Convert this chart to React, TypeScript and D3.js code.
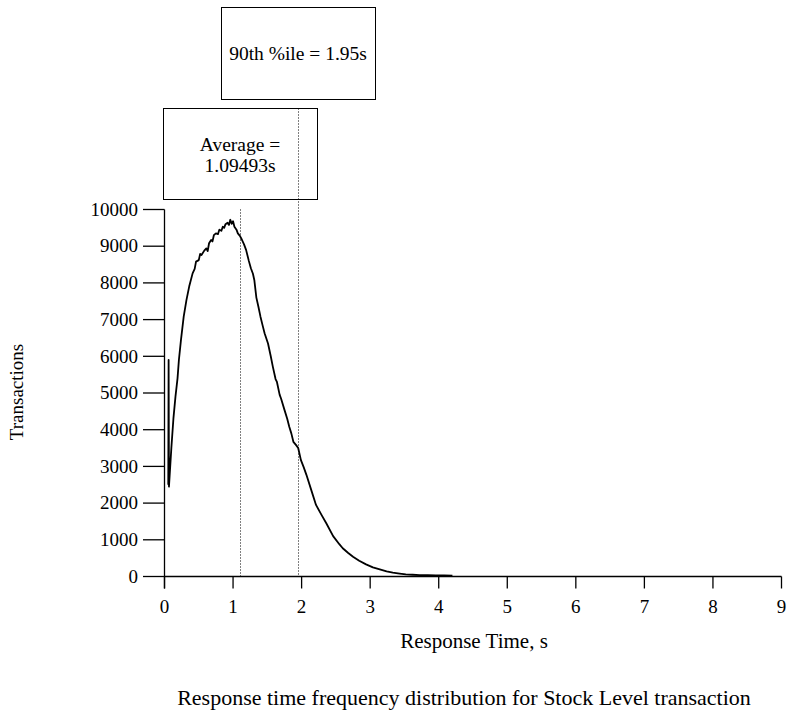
import React from "react";
import * as d3 from "d3";

const times = [0.055,0.06,0.065,0.10,0.13,0.16,0.19,0.21,0.24,0.28,0.32,0.36,0.41,0.44,0.46,0.50,0.52,0.54,0.58,0.61,0.63,0.65,0.68,0.70,0.72,0.75,0.78,0.80,0.83,0.85,0.87,0.89,0.92,0.94,0.96,0.98,1.00,1.02,1.05,1.07,1.10,1.12,1.16,1.19,1.23,1.26,1.29,1.31,1.34,1.37,1.40,1.43,1.46,1.51,1.55,1.58,1.62,1.64,1.68,1.70,1.75,1.79,1.82,1.85,1.88,1.92,1.95,1.99,2.03,2.07,2.14,2.21,2.29,2.36,2.46,2.55,2.60,2.68,2.75,2.84,2.94,3.04,3.14,3.24,3.33,3.43,3.52,3.62,3.72,3.84,3.96,4.08,4.20];
const counts = [2500,5900,2450,3500,4300,4900,5400,5900,6440,7080,7530,7900,8260,8380,8580,8620,8790,8760,8880,8940,8870,9080,9170,9130,9300,9350,9330,9450,9420,9530,9500,9600,9640,9580,9720,9610,9680,9530,9450,9350,9280,9210,9050,8900,8600,8400,8250,8080,7600,7350,7080,6850,6630,6350,6000,5720,5380,5300,4950,4850,4540,4300,4080,3900,3670,3580,3500,3170,2980,2770,2360,1950,1680,1450,1100,880,770,640,540,430,330,250,195,140,105,80,60,48,40,35,30,28,25];

const xTicks = [0,1,2,3,4,5,6,7,8,9];
const yTicks = [0,1000,2000,3000,4000,5000,6000,7000,8000,9000,10000];
const averageValue = 1.09493;
const percentile90 = 1.95;
const averageLines = ["Average =", "1.09493s"];
const percentileLabel = "90th %ile = 1.95s";
const xTitle = "Response Time, s";
const yTitle = "Transactions";
const caption = "Response time frequency distribution for Stock Level transaction";

const FONT = "'Liberation Serif', 'Times New Roman', Times, serif";

export default function App() {
  const x = d3.scaleLinear().domain([0, 9]).range([164.5, 781.5]);
  const y = d3.scaleLinear().domain([0, 10000]).range([576.5, 209.5]);
  const data = times.map((t, i) => [t, counts[i]] as [number, number]);
  const line = d3
    .line<[number, number]>()
    .x((d) => x(d[0]))
    .y((d) => y(d[1]));

  return (
    <svg
      width={787}
      height={711}
      style={{ position: "absolute", left: 0, top: 0, background: "#fff" }}
      fontFamily={FONT}
    >
      <rect x={0} y={0} width={787} height={711} fill="#fff" />
      {/* annotation boxes */}
      <rect x={221.5} y={7.5} width={154} height={92} fill="none" stroke="#000" strokeWidth={1} />
      <text x={298} y={60} textAnchor="middle" fontSize={19.5}>
        {percentileLabel}
      </text>
      <rect x={163.5} y={108.5} width={154} height={91} fill="none" stroke="#000" strokeWidth={1} />
      <text x={240} y={151} textAnchor="middle" fontSize={19.5}>
        {averageLines[0]}
      </text>
      <text x={240} y={172} textAnchor="middle" fontSize={19.5}>
        {averageLines[1]}
      </text>

      {/* reference lines */}
      <line
        x1={Math.round(x(averageValue)) + 0.5}
        x2={Math.round(x(averageValue)) + 0.5}
        y1={y(10000)}
        y2={y(0)}
        stroke="#000"
        strokeWidth={1}
        strokeDasharray="1,2"
      />
      <line
        x1={Math.round(x(percentile90)) + 0.5}
        x2={Math.round(x(percentile90)) + 0.5}
        y1={108.5}
        y2={y(0)}
        stroke="#000"
        strokeWidth={1}
        strokeDasharray="1,2"
      />

      {/* axes */}
      <line x1={x(0)} x2={x(0)} y1={y(10000)} y2={y(0) + 12} stroke="#000" strokeWidth={1.3} />
      <line x1={x(0)} x2={x(9)} y1={y(0)} y2={y(0)} stroke="#000" strokeWidth={1.3} />
      {yTicks.map((v) => (
        <g key={"y" + v}>
          <line x1={143} x2={x(0)} y1={y(v)} y2={y(v)} stroke="#000" strokeWidth={1.3} />
          <text x={138} y={y(v)} dy="0.33em" textAnchor="end" fontSize={19}>
            {v}
          </text>
        </g>
      ))}
      {xTicks.map((v) => (
        <g key={"x" + v}>
          <line x1={x(v)} x2={x(v)} y1={y(0)} y2={y(0) + 12} stroke="#000" strokeWidth={1.3} />
          <text x={x(v)} y={613} textAnchor="middle" fontSize={19}>
            {v}
          </text>
        </g>
      ))}

      {/* data line */}
      <path d={line(data) || ""} fill="none" stroke="#000" strokeWidth={1.8} strokeLinejoin="round" />

      {/* titles */}
      <text x={474} y={648} textAnchor="middle" fontSize={21}>
        {xTitle}
      </text>
      <text x={464} y={705} textAnchor="middle" fontSize={22}>
        {caption}
      </text>
      <text
        transform={`translate(23, 392) rotate(-90)`}
        textAnchor="middle"
        fontSize={19}
      >
        {yTitle}
      </text>
    </svg>
  );
}
